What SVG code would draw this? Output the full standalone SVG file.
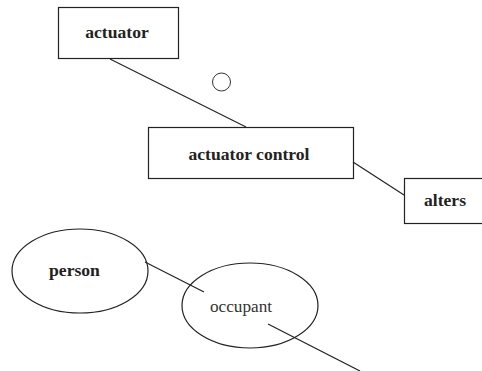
<svg xmlns="http://www.w3.org/2000/svg" width="482" height="371" viewBox="0 0 482 371">
<style>
.box{fill:#fff;stroke:#222;stroke-width:1.2}
.ell{fill:#fff;stroke:#222;stroke-width:1.2}
.ln{stroke:#222;stroke-width:1.2;fill:none}
.b{font-family:"Liberation Serif",serif;font-weight:bold;font-size:17.6px;fill:#222}
.n{font-family:"Liberation Serif",serif;font-size:17.2px;fill:#333}
</style>
<rect width="482" height="371" fill="#fff"/>
<g id="actuator">
<rect class="box" x="58.5" y="7.5" width="120" height="51"/>
<text class="b" x="117" y="38" text-anchor="middle">actuator</text>
</g>
<g id="marker-circle">
<circle cx="221.5" cy="82" r="9" fill="none" stroke="#333" stroke-width="1"/>
</g>
<g id="actuator-control">
<rect class="box" x="148.5" y="127.5" width="205" height="51"/>
<text class="b" x="249" y="160" text-anchor="middle">actuator control</text>
</g>
<g id="alters">
<rect class="box" x="404.5" y="178.5" width="90" height="45"/>
<text class="b" x="445" y="206" text-anchor="middle">alters</text>
</g>
<g id="person">
<ellipse class="ell" cx="80" cy="271" rx="68" ry="42"/>
<text class="b" x="74.5" y="276" text-anchor="middle">person</text>
</g>
<g id="occupant">
<ellipse class="ell" cx="250" cy="305.5" rx="68" ry="42.5"/>
<text class="n" x="241" y="312" text-anchor="middle">occupant</text>
</g>
<g id="connectors">
<line class="ln" x1="110" y1="59" x2="246" y2="127"/>
<line class="ln" x1="353" y1="162" x2="404" y2="195"/>
<line class="ln" x1="145" y1="262" x2="204" y2="292"/>
<line class="ln" x1="268" y1="324" x2="360" y2="371"/>
</g>
</svg>
